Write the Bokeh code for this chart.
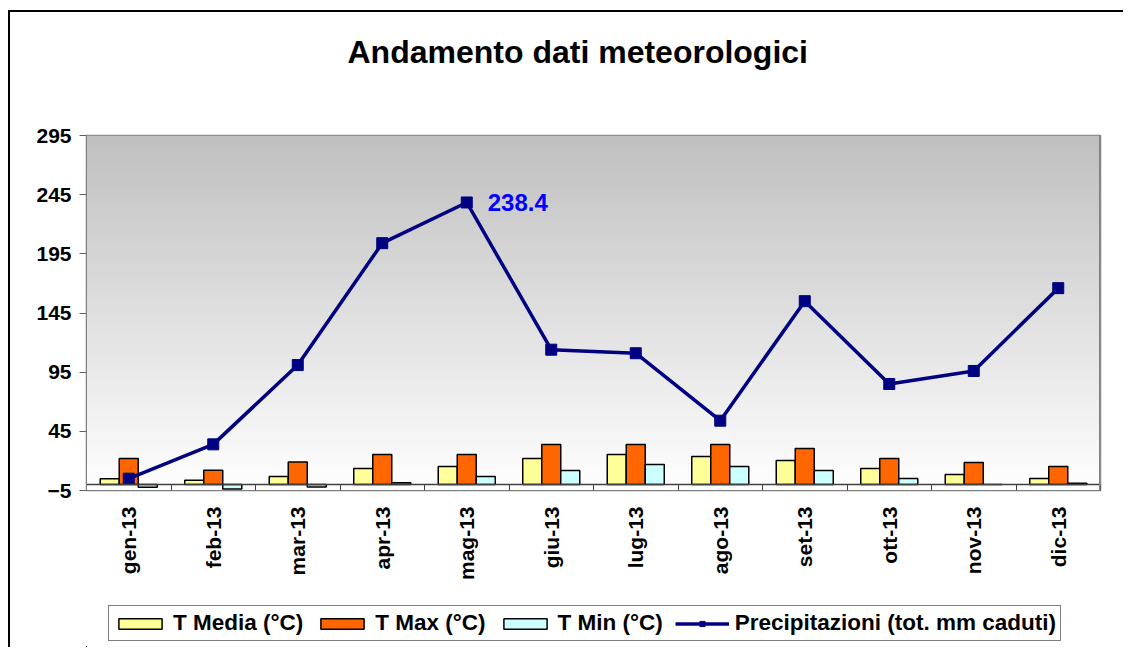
import math
import numpy as np
from bokeh.plotting import figure
from bokeh.layouts import column
from bokeh.models import (ColumnDataSource, FixedTicker, Legend, LegendItem, Span, Label)
from bokeh.transform import dodge
from bokeh.embed import file_html
from bokeh.resources import INLINE

# ---- data ----
months = ["gen-13", "feb-13", "mar-13", "apr-13", "mag-13", "giu-13",
          "lug-13", "ago-13", "set-13", "ott-13", "nov-13", "dic-13"]
t_media = [5, 3.7, 6.8, 13.5, 15.2, 22, 25.4, 23.7, 20.3, 13.5, 8.5, 5.1]
t_max = [22, 12.2, 19, 25.4, 25.4, 33.8, 33.8, 33.8, 30.4, 22, 18.6, 15.2]
t_min = [-2.3, -3.7, -2, 1.5, 6.8, 11.8, 16.9, 15.2, 11.8, 5.1, 0, 1.2]
precip = [5, 34, 101, 204, 238.4, 114, 111, 54, 155, 85, 96, 166]
y_ticks = [-5, 45, 95, 145, 195, 245, 295]
series_names = ["T Media (°C)", "T Max (°C)", "T Min (°C)", "Precipitazioni (tot. mm caduti)"]
chart_title = "Andamento dati meteorologici"

FONT = "Liberation Sans"
C_MEDIA, C_MAX, C_MIN, C_PREC = "#FFFF99", "#FF6600", "#CCFFFF", "#000080"
idx = list(range(len(months)))
src = ColumnDataSource(dict(x=idx, media=t_media, tmax=t_max, tmin=t_min, precip=precip))

# ---- title strip ----
pt = figure(width=1115, height=90, output_backend="svg", toolbar_location=None,
            x_axis_type=None, y_axis_type=None, min_border_left=0, min_border_right=0,
            min_border_bottom=0, min_border_top=57, outline_line_color=None,
            background_fill_color="white", border_fill_color="white")
pt.styles = {"margin-left": "8px", "margin-top": "10px",
             "border-left": "2px solid #000000", "border-top": "2px solid #000000"}
pt.xgrid.visible = False
pt.ygrid.visible = False
pt.title.text = chart_title
pt.title.align = "left"
pt.title.offset = 261
pt.title.text_font = FONT
pt.title.text_font_size = "32px"
pt.title.text_font_style = "bold"
pt.title.text_color = "black"
pt.title.standoff = 0

# ---- main chart ----
p = figure(width=1115, height=498, output_backend="svg", toolbar_location=None,
           x_range=(-0.5, len(months) - 0.5), y_range=(y_ticks[0], y_ticks[-1]),
           min_border_left=76, min_border_right=25, min_border_top=35,
           min_border_bottom=108, background_fill_color="white",
           border_fill_color="white")
p.styles = {"margin-left": "8px", "border-left": "2px solid #000000"}

# gradient background of plot area
n = 256
shade = np.linspace(255, 192, n).astype(np.uint32)
rgba = (255 << 24) | (shade << 16) | (shade << 8) | shade
img = rgba.reshape(n, 1).astype(np.uint32)
p.image_rgba(image=[img], x=-0.5, y=y_ticks[0], dw=len(months), dh=y_ticks[-1] - y_ticks[0])

p.outline_line_color = "#808080"
p.outline_line_width = 1.5

p.xgrid.visible = False
p.ygrid.ticker = FixedTicker(ticks=y_ticks)
p.ygrid.grid_line_color = "#707070"
p.ygrid.grid_line_width = 1.2

p.yaxis.ticker = FixedTicker(ticks=y_ticks)
p.yaxis.major_label_text_font = FONT
p.yaxis.major_label_text_font_size = "21px"
p.yaxis.major_label_text_font_style = "bold"
p.yaxis.major_label_text_color = "black"
p.yaxis.axis_line_color = "#808080"
p.yaxis.major_tick_line_color = "#606060"
p.yaxis.major_tick_in = 0
p.yaxis.major_tick_out = 7
p.yaxis.minor_tick_line_color = None
p.yaxis.major_label_standoff = 8

p.xaxis.ticker = FixedTicker(ticks=idx, minor_ticks=[i + 0.5 for i in range(-1, len(months))])
p.xaxis.major_label_overrides = {i: m for i, m in enumerate(months)}
p.xaxis.major_label_orientation = math.pi / 2
p.xaxis.major_label_text_font = FONT
p.xaxis.major_label_text_font_size = "21px"
p.xaxis.major_label_text_font_style = "bold"
p.xaxis.major_label_text_color = "black"
p.xaxis.major_tick_line_color = None
p.xaxis.minor_tick_line_color = "#404040"
p.xaxis.minor_tick_in = 6
p.xaxis.minor_tick_out = 0
p.xaxis.axis_line_color = "#808080"
p.xaxis.major_label_standoff = 10

p.add_layout(Span(location=0, dimension="width", line_color="#404040", line_width=1.5))
p.add_layout(Span(location=len(months) - 0.5, dimension="height", line_color="#808080", line_width=3))

bw = 0.225
p.vbar(x=dodge("x", -bw, range=p.x_range), top="media", bottom=0, width=bw, source=src,
       fill_color=C_MEDIA, line_color="black", line_width=1.5)
p.vbar(x=dodge("x", 0, range=p.x_range), top="tmax", bottom=0, width=bw, source=src,
       fill_color=C_MAX, line_color="black", line_width=1.5)
p.vbar(x=dodge("x", bw, range=p.x_range), top="tmin", bottom=0, width=bw, source=src,
       fill_color=C_MIN, line_color="black", line_width=1.5)

p.line(x="x", y="precip", source=src, line_color=C_PREC, line_width=3.5)
p.scatter(x="x", y="precip", source=src, marker="square", size=11,
          fill_color=C_PREC, line_color=C_PREC)

imax = int(np.argmax(precip))
p.add_layout(Label(x=imax, y=precip[imax], text=f"{precip[imax]:.1f}", x_offset=21,
                   text_baseline="middle", text_font=FONT, text_font_size="24px",
                   text_font_style="bold", text_color="#0000FF"))

# ---- legend strip (renderers share the data but sit outside its visible range) ----
pl = figure(width=1115, height=49, output_backend="svg", toolbar_location=None,
            x_axis_type=None, y_axis_type=None, min_border_left=0, min_border_right=0,
            min_border_top=0, min_border_bottom=0,
            x_range=(1000, 1001), y_range=(1000, 1001), outline_line_color=None,
            background_fill_color="white", border_fill_color="white")
pl.styles = {"margin-left": "8px", "border-left": "2px solid #000000"}
pl.xgrid.visible = False
pl.ygrid.visible = False
l_media = pl.vbar(x="x", top="media", width=0.1, source=src, fill_color=C_MEDIA, line_color="black", line_width=1.5)
l_max = pl.vbar(x="x", top="tmax", width=0.1, source=src, fill_color=C_MAX, line_color="black", line_width=1.5)
l_min = pl.vbar(x="x", top="tmin", width=0.1, source=src, fill_color=C_MIN, line_color="black", line_width=1.5)
l_line = pl.line(x="x", y="precip", source=src, line_color=C_PREC, line_width=3.5)
l_sq = pl.scatter(x="x", y="precip", source=src, marker="square", size=11, fill_color=C_PREC, line_color=C_PREC)

legend = Legend(items=[
    LegendItem(label=series_names[0], renderers=[l_media]),
    LegendItem(label=series_names[1], renderers=[l_max]),
    LegendItem(label=series_names[2], renderers=[l_min]),
    LegendItem(label=series_names[3], renderers=[l_line, l_sq]),
], orientation="horizontal", location=(22, 6))
legend.label_text_font = FONT
legend.label_text_font_size = "22.5px"
legend.label_text_font_style = "bold"
legend.label_text_color = "black"
legend.glyph_width = 54
legend.glyph_height = 13
legend.spacing = 12
legend.padding = 4
legend.margin = 0
legend.label_standoff = 6
legend.border_line_color = "black"
legend.border_line_width = 1.2
legend.background_fill_color = "white"
legend.background_fill_alpha = 1
pl.add_layout(legend, "center")

layout = column(pt, p, pl, spacing=0)
open("out.html", "w").write(file_html(layout, INLINE))
